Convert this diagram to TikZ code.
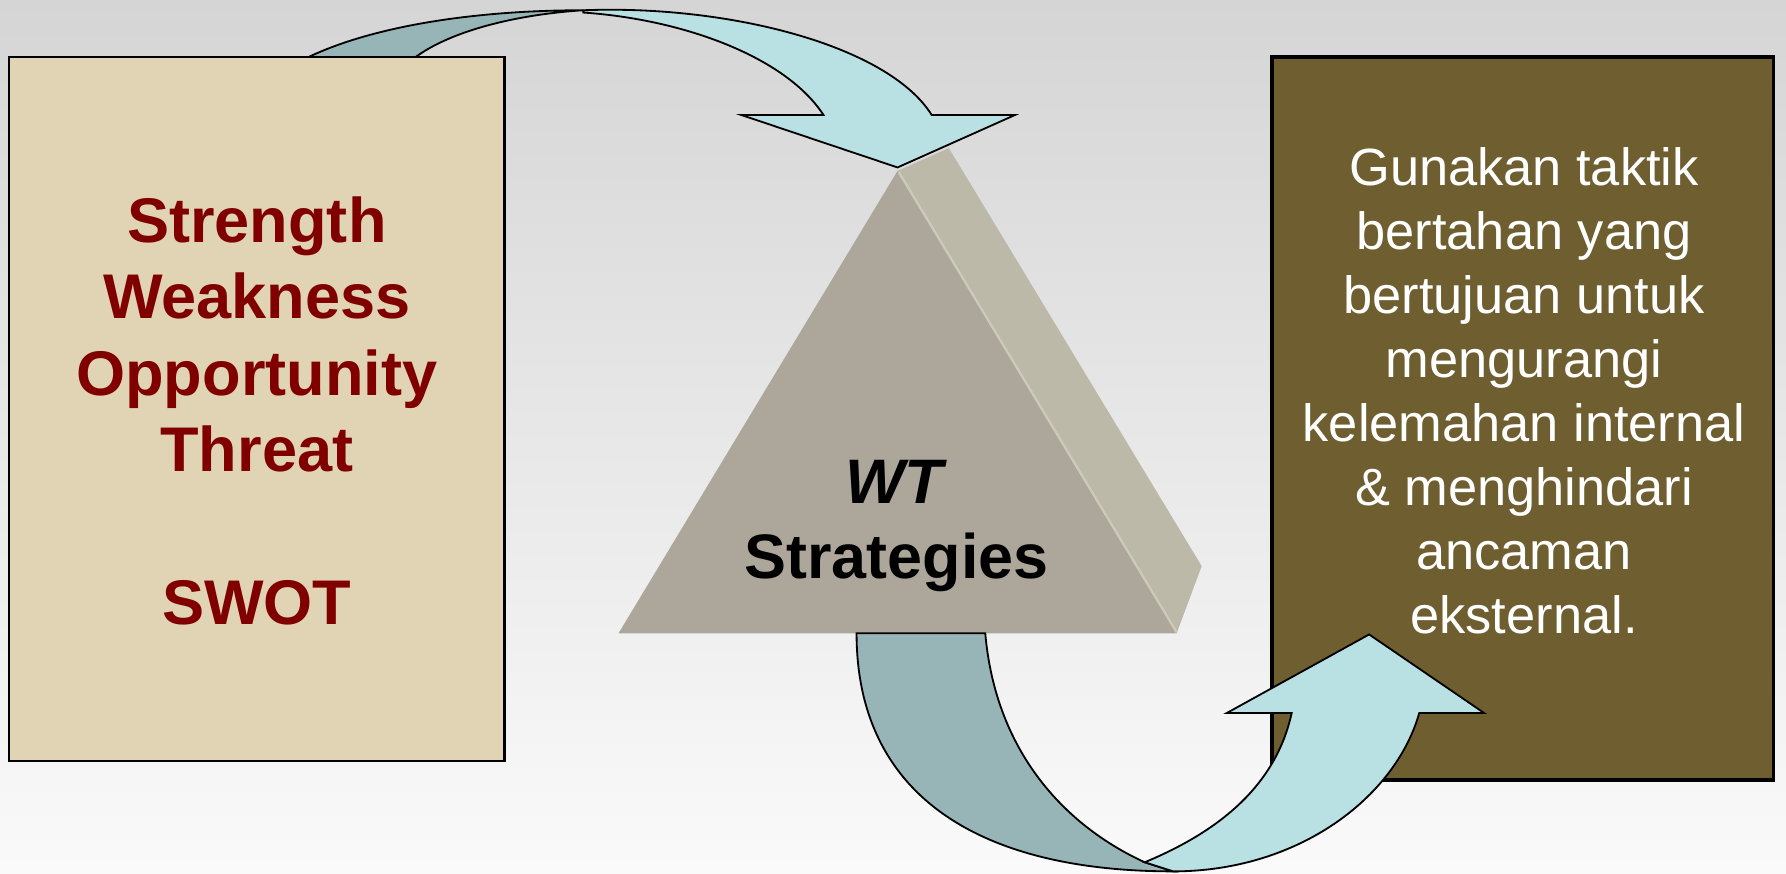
\documentclass[tikz,border=0pt]{standalone}
\usepackage{fontspec}
\setmainfont{Liberation Sans}
\definecolor{bgTop}{RGB}{213,213,213}
\definecolor{bgBot}{RGB}{250,250,250}
\definecolor{beige}{RGB}{224,212,180}
\definecolor{swotRed}{RGB}{128,0,0}
\definecolor{olive}{RGB}{111,95,48}
\definecolor{triFront}{RGB}{173,167,155}
\definecolor{triSide}{RGB}{189,185,168}
\definecolor{triEdge}{RGB}{206,202,186}
\definecolor{bandLight}{RGB}{185,224,227}
\definecolor{bandDark}{RGB}{151,181,183}
\tikzset{
  outl/.style={draw=black, line width=0.8pt, line join=miter},
  darkband/.style={outl, fill=bandDark},
  lightband/.style={outl, fill=bandLight},
  swotbox/.style={draw=black, line width=1pt, fill=beige},
  tacticbox/.style={draw=black, line width=1.75pt, fill=olive},
  swottext/.style={anchor=base, inner sep=0pt, text=swotRed, font=\fontsize{27.7pt}{33.5pt}\selectfont\bfseries},
  tritext/.style={anchor=base, inner sep=0pt, text=black, font=\fontsize{27.6pt}{32.9pt}\selectfont\bfseries},
  tactictext/.style={anchor=base, inner sep=0pt, text=white, font=\fontsize{23pt}{28.1pt}\selectfont}
}
\begin{document}
\begin{tikzpicture}[x=0.5pt,y=-0.5pt]
\useasboundingbox (0,0) rectangle (1568,767);
\shade[top color=bgTop, bottom color=bgBot] (0,0) rectangle (1568,767);

% top curved arrow, back (dark) part, passing behind the SWOT box
\path[darkband] (271,80) -- (271,50) .. controls (330,22) and (420,9) .. (512,9)
  .. controls (450,13) and (395,28) .. (365,50) -- (365,80) -- cycle;

% SWOT box
\path[swotbox] (8,50) rectangle (443,668);
\node[swottext] (swot) at (225.5,213)
  {\begin{tabular}[t]{@{}c@{}}Strength\\Weakness\\Opportunity\\Threat\\ \\SWOT\end{tabular}};

% triangle
\fill[triSide] (788,150) -- (833,130) -- (1055,497) -- (1033,556) -- cycle;
\fill[triFront] (788,150) -- (543,556) -- (1033,556) -- cycle;
\draw[triEdge, line width=1pt] (789,151) -- (1033,555);
\node[tritext] (wt) at (787,442)
  {\begin{tabular}[t]{@{}c@{}}\textit{WT}\\Strategies\end{tabular}};

% top curved arrow, front (light) part with head
\path[lightband] (512,9) .. controls (640,4) and (780,40) .. (818,101)
  -- (891,101) -- (788,147) -- (651,101) -- (723,101)
  .. controls (690,50) and (600,17) .. (512,11) -- cycle;

% tactic box
\path[tacticbox] (1117,50) rectangle (1557,685);
\node[tactictext] (tactic) at (1338,163)
  {\begin{tabular}[t]{@{}c@{}}Gunakan taktik\\bertahan yang\\bertujuan untuk\\mengurangi\\kelemahan internal\\\& menghindari\\ancaman\\eksternal.\end{tabular}};

% bottom curved arrow
\path[darkband] (752,556) .. controls (752,695) and (855,765) .. (1030,765)
  -- (1005,757) .. controls (935,725) and (874,660) .. (865,556) -- cycle;
\path[lightband] (1005,757) -- (1030,765) .. controls (1140,765) and (1225,700) .. (1246,626)
  -- (1303,626) -- (1202,557) -- (1077,626) -- (1134,626)
  .. controls (1120,690) and (1070,730) .. (1005,757) -- cycle;
\end{tikzpicture}
\end{document}
